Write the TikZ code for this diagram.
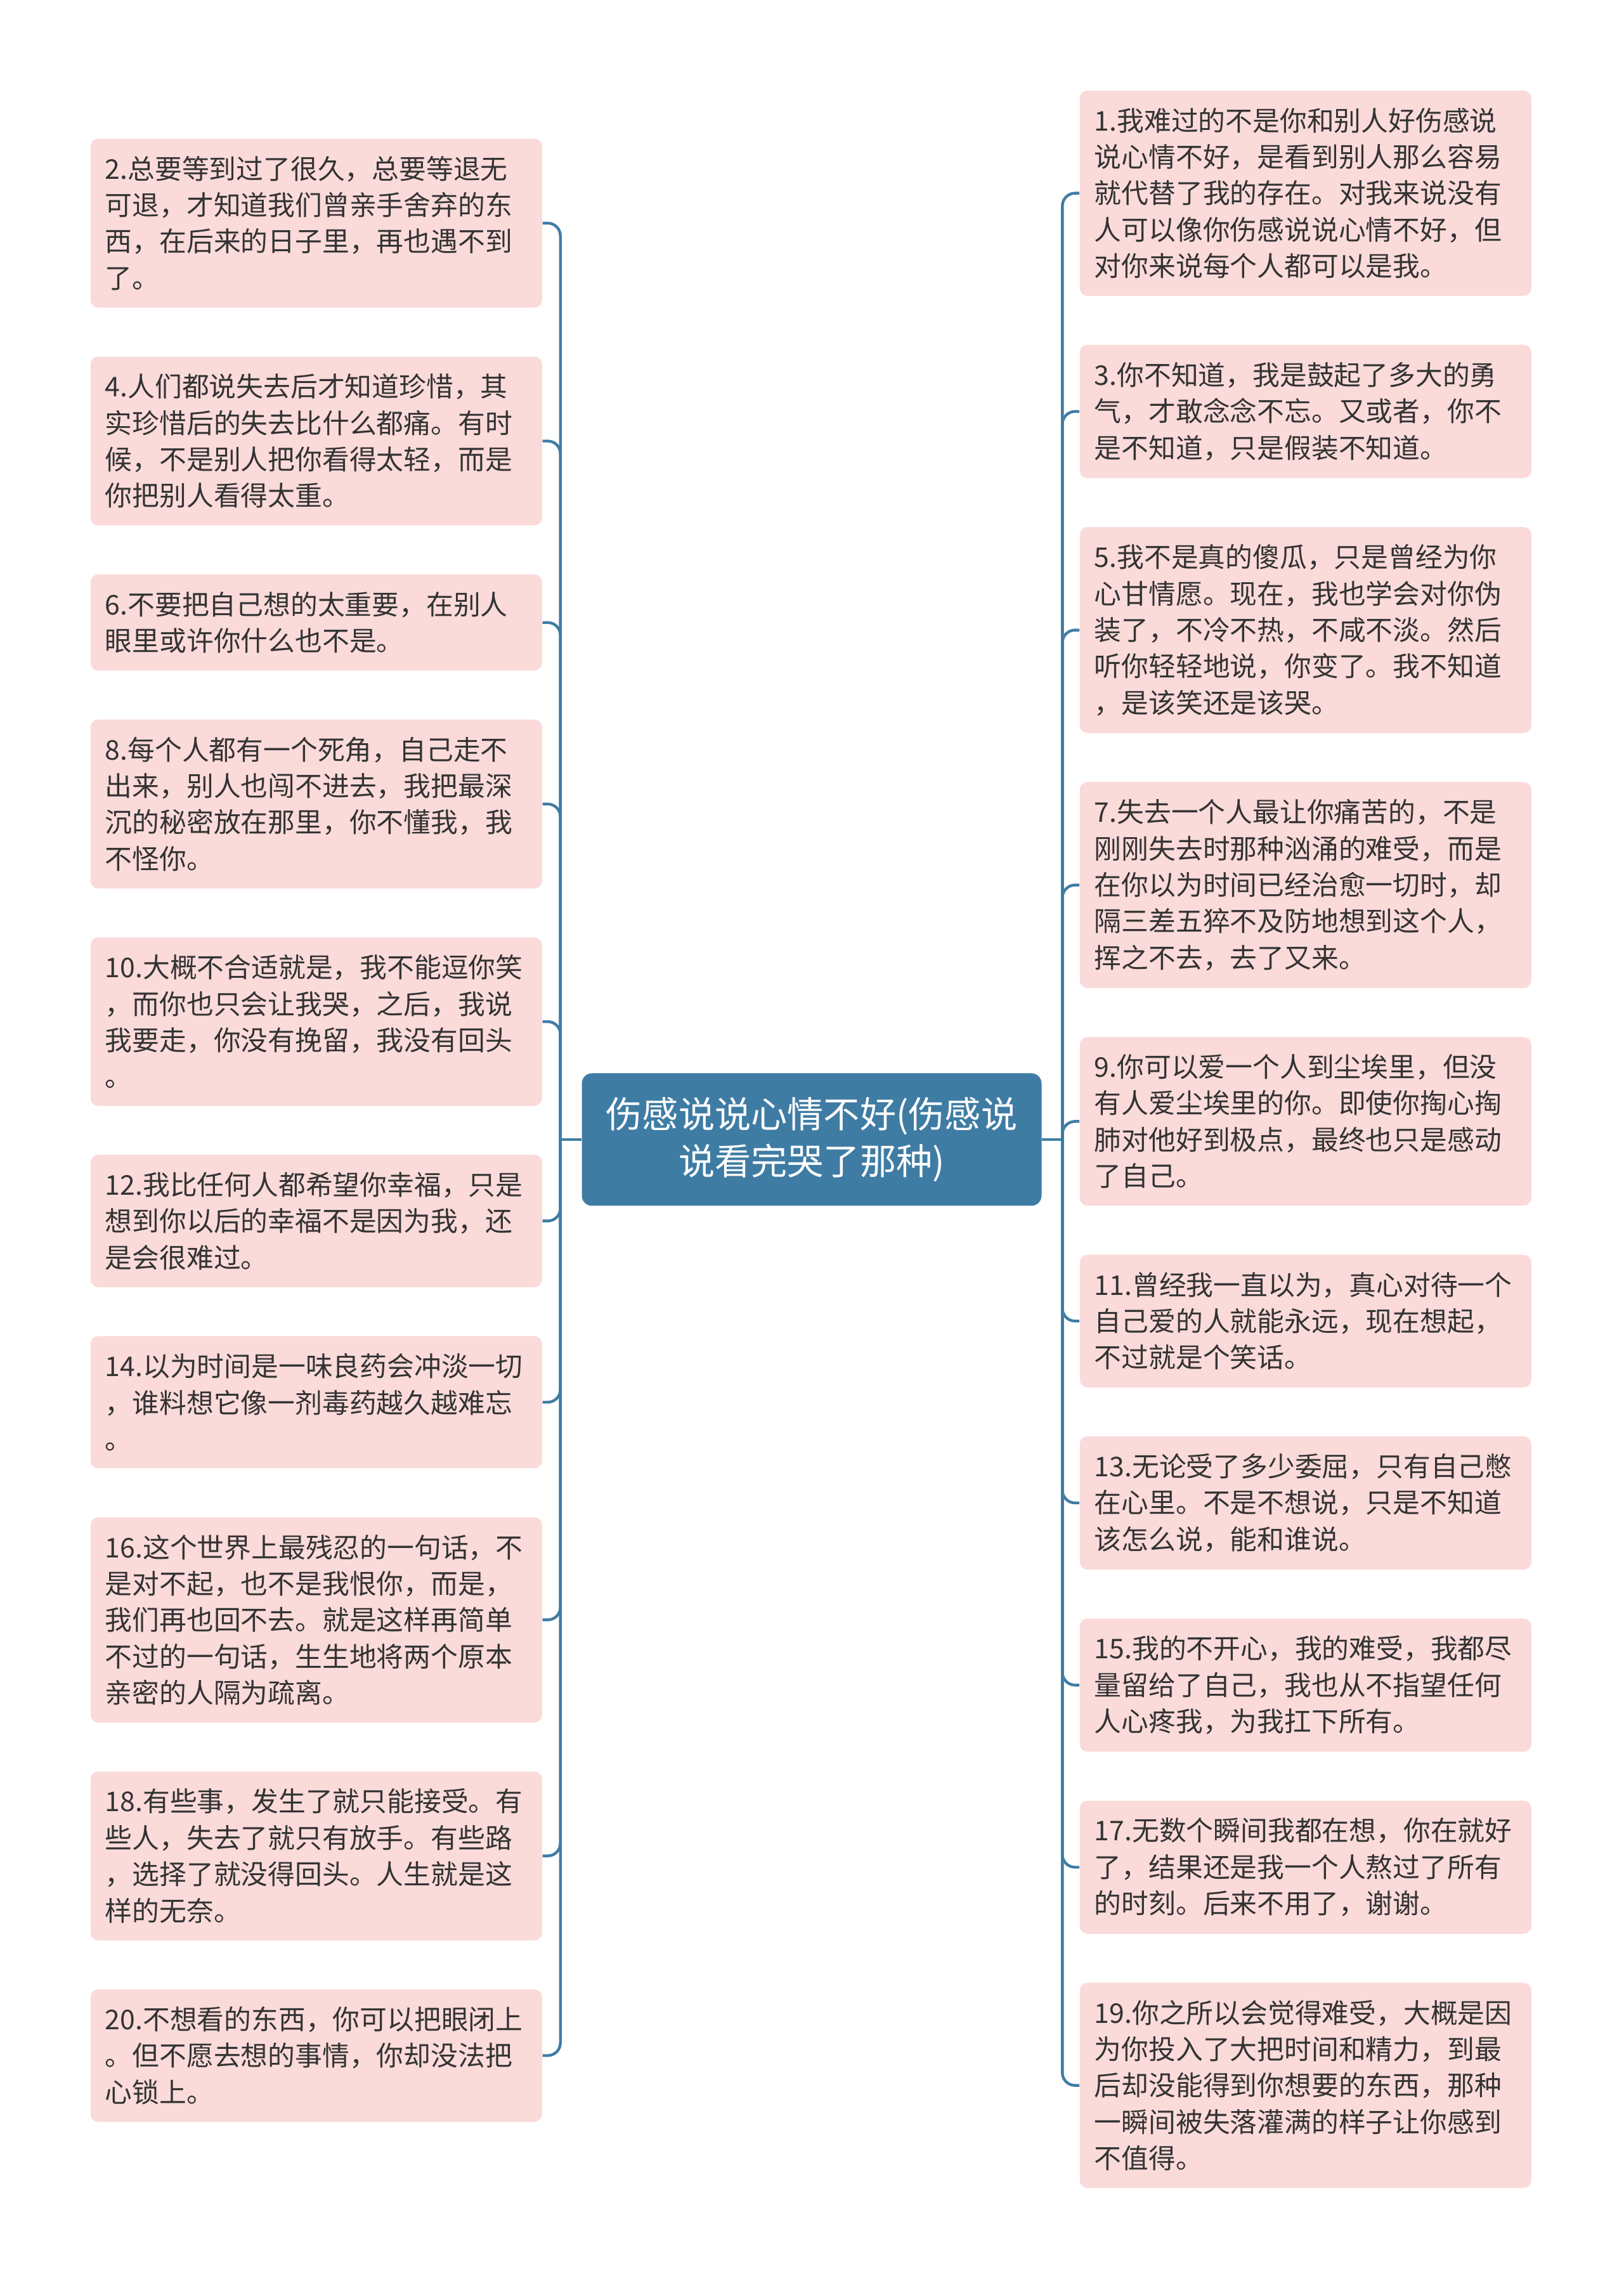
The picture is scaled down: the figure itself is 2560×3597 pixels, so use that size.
\documentclass[tikz,border=0pt]{standalone}
\usepackage{fontspec}
\setmainfont{Noto Sans CJK SC}
\usetikzlibrary{positioning}

\definecolor{topicblue}{HTML}{3F7CA4}
\definecolor{leafpink}{HTML}{FBDADA}
\definecolor{leaftext}{HTML}{333333}

\begin{document}
\begin{tikzpicture}[x=0.25pt, y=0.25pt, node distance=18.9pt,
	topic/.style={rectangle, rounded corners=4pt, fill=topicblue, text=white, align=center,
		minimum width=181.25pt, minimum height=52.25pt, inner xsep=2pt,
		font=\fontsize{14.3pt}{18.4pt}\selectfont},
	leaf/.style={rectangle, rounded corners=3pt, fill=leafpink, text=leaftext, align=left,
		text width=166.5pt, inner xsep=5.75pt, inner ysep=6.83pt,
		font=\fontsize{10.7pt}{14.34pt}\selectfont},
	link/.style={draw=topicblue, line width=1.1pt, rounded corners=5pt}]
	\useasboundingbox (0,0) rectangle (2560,3597);

	\node[topic] (root) at (1280,1800) {伤感说说心情不好(伤感说\\说看完哭了那种)};

	% left side
	\node[leaf, anchor=north west] (l2) at (142,3379) {2.总要等到过了很久，总要等退无\\可退，才知道我们曾亲手舍弃的东\\西，在后来的日子里，再也遇不到\\了。};
	\node[leaf, below=of l2] (l4) {4.人们都说失去后才知道珍惜，其\\实珍惜后的失去比什么都痛。有时\\候，不是别人把你看得太轻，而是\\你把别人看得太重。};
	\node[leaf, below=of l4] (l6) {6.不要把自己想的太重要，在别人\\眼里或许你什么也不是。};
	\node[leaf, below=of l6] (l8) {8.每个人都有一个死角，自己走不\\出来，别人也闯不进去，我把最深\\沉的秘密放在那里，你不懂我，我\\不怪你。};
	\node[leaf, below=of l8] (l10) {10.大概不合适就是，我不能逗你笑\\，而你也只会让我哭，之后，我说\\我要走，你没有挽留，我没有回头\\。};
	\node[leaf, below=of l10] (l12) {12.我比任何人都希望你幸福，只是\\想到你以后的幸福不是因为我，还\\是会很难过。};
	\node[leaf, below=of l12] (l14) {14.以为时间是一味良药会冲淡一切\\，谁料想它像一剂毒药越久越难忘\\。};
	\node[leaf, below=of l14] (l16) {16.这个世界上最残忍的一句话，不\\是对不起，也不是我恨你，而是，\\我们再也回不去。就是这样再简单\\不过的一句话，生生地将两个原本\\亲密的人隔为疏离。};
	\node[leaf, below=of l16] (l18) {18.有些事，发生了就只能接受。有\\些人，失去了就只有放手。有些路\\，选择了就没得回头。人生就是这\\样的无奈。};
	\node[leaf, below=of l18] (l20) {20.不想看的东西，你可以把眼闭上\\。但不愿去想的事情，你却没法把\\心锁上。};

	% right side
	\node[leaf, anchor=north west] (r1) at (1702,3455) {1.我难过的不是你和别人好伤感说\\说心情不好，是看到别人那么容易\\就代替了我的存在。对我来说没有\\人可以像你伤感说说心情不好，但\\对你来说每个人都可以是我。};
	\node[leaf, below=of r1] (r3) {3.你不知道，我是鼓起了多大的勇\\气，才敢念念不忘。又或者，你不\\是不知道，只是假装不知道。};
	\node[leaf, below=of r3] (r5) {5.我不是真的傻瓜，只是曾经为你\\心甘情愿。现在，我也学会对你伪\\装了，不冷不热，不咸不淡。然后\\听你轻轻地说，你变了。我不知道\\，是该笑还是该哭。};
	\node[leaf, below=of r5] (r7) {7.失去一个人最让你痛苦的，不是\\刚刚失去时那种汹涌的难受，而是\\在你以为时间已经治愈一切时，却\\隔三差五猝不及防地想到这个人，\\挥之不去，去了又来。};
	\node[leaf, below=of r7] (r9) {9.你可以爱一个人到尘埃里，但没\\有人爱尘埃里的你。即使你掏心掏\\肺对他好到极点，最终也只是感动\\了自己。};
	\node[leaf, below=of r9] (r11) {11.曾经我一直以为，真心对待一个\\自己爱的人就能永远，现在想起，\\不过就是个笑话。};
	\node[leaf, below=of r11] (r13) {13.无论受了多少委屈，只有自己憋\\在心里。不是不想说，只是不知道\\该怎么说，能和谁说。};
	\node[leaf, below=of r13] (r15) {15.我的不开心，我的难受，我都尽\\量留给了自己，我也从不指望任何\\人心疼我，为我扛下所有。};
	\node[leaf, below=of r15] (r17) {17.无数个瞬间我都在想，你在就好\\了，结果还是我一个人熬过了所有\\的时刻。后来不用了，谢谢。};
	\node[leaf, below=of r17] (r19) {19.你之所以会觉得难受，大概是因\\为你投入了大把时间和精力，到最\\后却没能得到你想要的东西，那种\\一瞬间被失落灌满的样子让你感到\\不值得。};

	% connectors
	\coordinate[left=8.25pt of root.west] (lt);
	\coordinate[right=8pt of root.east] (rt);
	\draw[link] (root.west) -- (lt);
	\draw[link] (root.east) -- (rt);
	\foreach \n in {l2,l4,l6,l8,l10,l12,l14,l16,l18,l20}
		\draw[link] (lt) |- (\n.east);
	\foreach \n in {r1,r3,r5,r7,r9,r11,r13,r15,r17,r19}
		\draw[link] (rt) |- (\n.west);
\end{tikzpicture}
\end{document}
